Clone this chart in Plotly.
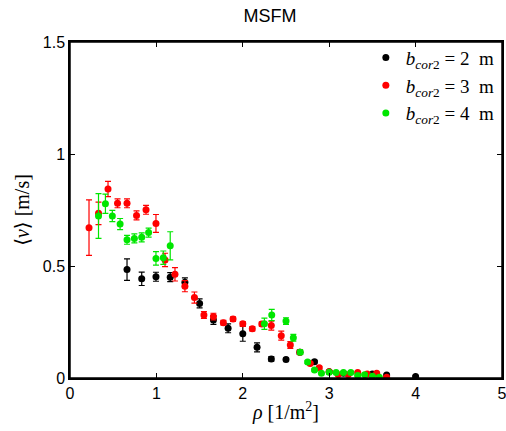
import plotly.graph_objects as go

# ---- data ----
rho_b2 = [0.66, 0.83, 0.995, 1.16, 1.33, 1.50, 1.66, 1.83, 2.0, 2.165, 2.33, 2.50, 2.66, 2.83, 3.0, 3.165, 3.50, 3.665, 4.0]
v_b2 = [0.484, 0.443, 0.452, 0.45, 0.427, 0.333, 0.259, 0.222, 0.198, 0.137, 0.085, 0.083, 0.115, 0.073, 0.028, 0.021, 0.018, 0.013, 0.007]
e_b2 = [0.048, 0.03, 0.02, 0.02, 0.02, 0.02, 0.02, 0.02, 0.034, 0.02, 0.01, 0.006, 0.01, 0.006, 0.005, 0.004, 0.004, 0.004, 0.003]

rho_b3 = [0.22, 0.33, 0.44, 0.55, 0.66, 0.77, 0.88, 0.995, 1.10, 1.215, 1.33, 1.44, 1.55, 1.66, 1.775, 1.887, 2.0, 2.11, 2.22, 2.33, 2.445, 2.55, 2.66, 2.78, 2.885, 3.0, 3.105, 3.22, 3.33, 3.44, 3.55, 3.665]
v_b3 = [0.671, 0.735, 0.844, 0.78, 0.78, 0.726, 0.751, 0.69, 0.527, 0.463, 0.41, 0.359, 0.281, 0.274, 0.247, 0.263, 0.242, 0.22, 0.241, 0.234, 0.189, 0.147, 0.115, 0.065, 0.046, 0.028, 0.015, 0.015, 0.024, 0.018, 0.021, 0.003]
e_b3 = [0.124, 0.05, 0.034, 0.02, 0.02, 0.02, 0.02, 0.04, 0.03, 0.03, 0.025, 0.025, 0.015, 0.015, 0.01, 0.01, 0.01, 0.01, 0.01, 0.02, 0.02, 0.015, 0.01, 0.006, 0.006, 0.005, 0.004, 0.004, 0.004, 0.004, 0.004, 0.003]

rho_b4 = [0.33, 0.41, 0.49, 0.58, 0.66, 0.745, 0.83, 0.91, 0.995, 1.08, 1.16, 2.25, 2.335, 2.5, 2.585, 2.665, 2.75, 2.83, 2.91, 3.0, 3.08, 3.165, 3.25, 3.33, 3.41, 3.50, 3.58]
v_b4 = [0.723, 0.778, 0.723, 0.687, 0.617, 0.623, 0.628, 0.649, 0.534, 0.537, 0.59, 0.242, 0.281, 0.254, 0.18, 0.115, 0.071, 0.036, 0.021, 0.026, 0.024, 0.024, 0.024, 0.011, 0.015, 0.008, 0.003]
e_b4 = [0.10, 0.043, 0.025, 0.025, 0.02, 0.02, 0.02, 0.02, 0.03, 0.03, 0.063, 0.025, 0.025, 0.015, 0.015, 0.01, 0.006, 0.005, 0.004, 0.004, 0.004, 0.004, 0.004, 0.003, 0.003, 0.003, 0.003]

series = [
    ("<i>b</i><sub><i>cor</i>2</sub>&nbsp;=&nbsp;2&nbsp;&nbsp;m", rho_b2, v_b2, e_b2, "black"),
    ("<i>b</i><sub><i>cor</i>2</sub>&nbsp;=&nbsp;3&nbsp;&nbsp;m", rho_b3, v_b3, e_b3, "rgb(255,0,0)"),
    ("<i>b</i><sub><i>cor</i>2</sub>&nbsp;=&nbsp;4&nbsp;&nbsp;m", rho_b4, v_b4, e_b4, "rgb(0,230,0)"),
]

x_ticks = [0, 1, 2, 3, 4, 5]
y_ticks = [0, 0.5, 1, 1.5]
y_ticklabels = ["0", "0.5", "1", "1.5"]

fig = go.Figure()
for name, x, y, e, col in series:
    fig.add_trace(go.Scatter(
        x=x, y=y, mode="markers", name=name,
        marker=dict(color=col, size=7, line=dict(width=0)),
        error_y=dict(type="data", array=e, visible=True, color=col, thickness=1.2, width=3),
    ))

axis_common = dict(
    showline=True, linecolor="black", linewidth=1.5, mirror="ticks",
    ticks="inside", ticklen=5, tickcolor="black", tickwidth=1,
    showgrid=False, zeroline=False, automargin=False,
    ticklabeloverflow="allow",
    tickfont=dict(family="Liberation Sans, Arial, sans-serif", size=16, color="black"),
)

W, H = 506, 431
fig.update_layout(
    width=W, height=H,
    margin=dict(l=70, r=4, t=42, b=53),
    paper_bgcolor="white", plot_bgcolor="white",
    title=dict(text="MSFM", x=270 / W, xanchor="center",
               y=1 - 16 / H, yanchor="middle", automargin=False,
               font=dict(family="Liberation Sans, Arial, sans-serif", size=18, color="black")),
    xaxis=dict(range=[0, 5], tickvals=x_ticks, ticktext=[str(t) for t in x_ticks],
               title=dict(text="<i>ρ</i> [1/m<sup>2</sup>]", standoff=4,
                          font=dict(family="Liberation Serif, DejaVu Serif, serif", size=20, color="black")),
               **axis_common),
    yaxis=dict(range=[0, 1.5], tickvals=y_ticks, ticktext=y_ticklabels,
               title=dict(text="⟨<i>v</i>⟩ [m/s]", standoff=8,
                          font=dict(family="Liberation Serif, DejaVu Serif, serif", size=20, color="black")),
               **axis_common),
    legend=dict(x=0.995, y=1.01, xanchor="right", yanchor="top",
                bgcolor="rgba(0,0,0,0)", borderwidth=0, tracegroupgap=0,
                font=dict(family="Liberation Serif, DejaVu Serif, serif", size=19, color="black"),
                itemwidth=30),
    shapes=[dict(type="rect", xref="paper", yref="paper", x0=0, y0=0, x1=1, y1=1,
                 line=dict(color="black", width=1.5), fillcolor="rgba(0,0,0,0)", layer="above")],
    showlegend=True,
)

# remove the browser's default 8px page margin so the figure fills the window exactly
fig.write_html("out.html",
               config={"displayModeBar": False},
               post_script="document.body.style.margin='0';document.body.style.overflow='hidden';")
